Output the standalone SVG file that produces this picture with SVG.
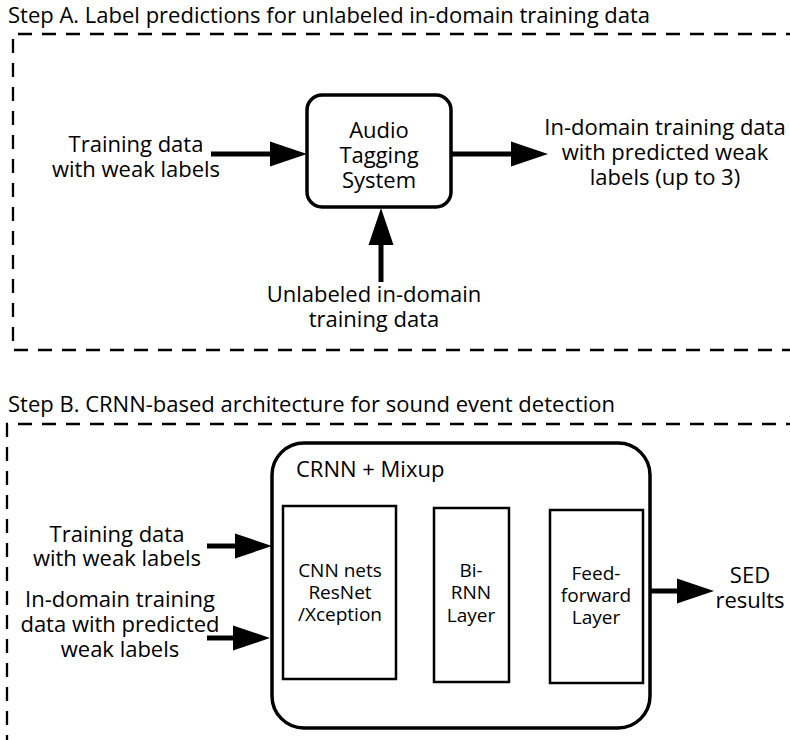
<svg xmlns="http://www.w3.org/2000/svg" width="790" height="740" viewBox="0 0 790 740">
<style>
text{font-family:"Open Sans","Noto Sans","DejaVu Sans",sans-serif;fill:#000;}
.t{font-size:22px;}
.l{font-size:22px;text-anchor:middle;}
.s{font-size:19px;text-anchor:middle;}
.dash{fill:none;stroke:#000;stroke-width:2.3;stroke-dasharray:14 10;}
.node{fill:#fff;stroke:#000;stroke-width:3.5;}
.inner{fill:#fff;stroke:#000;stroke-width:2.5;}
.arr{fill:none;stroke:#000;stroke-width:5;marker-end:url(#ah);}
.arr2{fill:none;stroke:#000;stroke-width:3.5;marker-end:url(#ah2);}
</style>
<defs>
<marker id="ah" markerUnits="userSpaceOnUse" markerWidth="40" markerHeight="26" refX="0" refY="12.5" orient="auto" overflow="visible">
<path d="M0,0 L37,12.5 L0,25 Z" fill="#000"/>
</marker>
<marker id="ah2" markerUnits="userSpaceOnUse" markerWidth="32" markerHeight="24" refX="0" refY="11" orient="auto" overflow="visible">
<path d="M0,0 L29,11 L0,22 Z" fill="#000"/>
</marker>
</defs>

<text class="t" x="8" y="23">Step A. Label predictions for unlabeled in-domain training data</text>
<path class="dash" d="M800,34 H13 V350 H800"/>

<text class="t" x="8" y="412">Step B. CRNN-based architecture for sound event detection</text>
<path class="dash" d="M800,424 H7 V745"/>

<g id="connectors">
<path class="arr" d="M211,154 H270"/>
<path class="arr" d="M451,154 H511"/>
<path class="arr" d="M381,282 V245"/>
<path class="arr" d="M207,546 H235"/>
<path class="arr" d="M207,638 H233"/>
<path class="arr2" d="M395,593 H405"/>
<path class="arr2" d="M509,594 H521"/>
<path class="arr" d="M650,591 H677"/>
</g>

<g id="audio_tagging">
<rect class="node" x="307" y="95" width="144" height="112" rx="15"/>
<text class="l"><tspan x="379" y="138">Audio</tspan><tspan x="379" y="163">Tagging</tspan><tspan x="379" y="188">System</tspan></text>
</g>

<g id="train_a">
<text class="l"><tspan x="136" y="152">Training data</tspan><tspan x="136" y="177">with weak labels</tspan></text>
</g>

<g id="pred_out">
<text class="l"><tspan x="665" y="135">In-domain training data</tspan><tspan x="665" y="160">with predicted weak</tspan><tspan x="665" y="185">labels (up to 3)</tspan></text>
</g>

<g id="unlabeled">
<text class="l"><tspan x="374" y="302">Unlabeled in-domain</tspan><tspan x="374" y="327">training data</tspan></text>
</g>

<g id="crnn">
<rect class="node" x="272" y="443" width="378" height="285" rx="32"/>
<text class="t" x="296" y="477">CRNN + Mixup</text>
</g>

<g id="cnn">
<rect class="inner" x="283" y="506" width="113" height="173"/>
<text class="s"><tspan x="340" y="577">CNN nets</tspan><tspan x="340" y="599">ResNet</tspan><tspan x="340" y="621">/Xception</tspan></text>
</g>

<g id="birnn">
<rect class="inner" x="434" y="508" width="75" height="174"/>
<text class="s"><tspan x="471" y="577">Bi-</tspan><tspan x="471" y="599">RNN</tspan><tspan x="471" y="622">Layer</tspan></text>
</g>

<g id="feedforward">
<rect class="inner" x="550" y="510" width="93" height="173"/>
<text class="s"><tspan x="596" y="580">Feed-</tspan><tspan x="596" y="602">forward</tspan><tspan x="596" y="624">Layer</tspan></text>
</g>

<g id="train_b">
<text class="l"><tspan x="117" y="542">Training data</tspan><tspan x="117" y="566">with weak labels</tspan></text>
</g>

<g id="pred_in">
<text class="l"><tspan x="120" y="607">In-domain training</tspan><tspan x="120" y="632">data with predicted</tspan><tspan x="120" y="657">weak labels</tspan></text>
</g>

<g id="sed">
<text class="l"><tspan x="750" y="583">SED</tspan><tspan x="750" y="608">results</tspan></text>
</g>
</svg>
